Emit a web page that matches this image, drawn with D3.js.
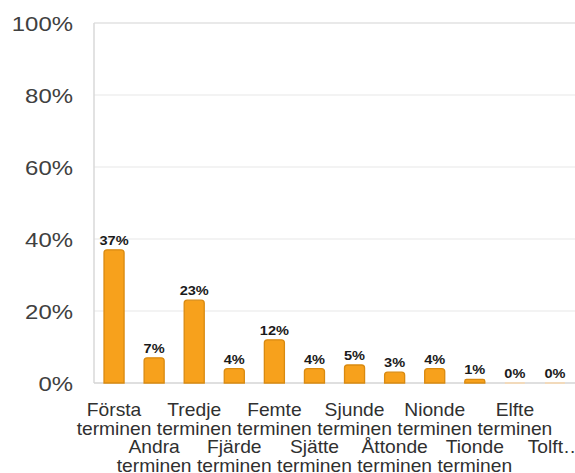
<!DOCTYPE html>
<html><head><meta charset="utf-8">
<script src="https://cdn.jsdelivr.net/npm/d3@7"></script>
<style>html,body{margin:0;padding:0;background:#fff;}svg{display:block;}</style>
</head><body>
<script>
const categories = ["Första terminen","Andra terminen","Tredje terminen","Fjärde terminen","Femte terminen","Sjätte terminen","Sjunde terminen","Åttonde terminen","Nionde terminen","Tionde terminen","Elfte terminen","Tolfte terminen"];
const values = [37,7,23,4,12,4,5,3,4,1,0,0];
const yTicks = [0,20,40,60,80,100];

const W=575,H=473;
const m={l:94,r:0,t:23,b:90};
const FONT="Liberation Sans, Arial, sans-serif";
const svg=d3.select("body").append("svg").attr("width",W).attr("height",H);
const x=d3.scaleBand().domain(categories).range([m.l,W-m.r]).paddingInner(0.5).paddingOuter(0.25);
const y=d3.scaleLinear().domain([0,100]).range([H-m.b,m.t]);

// gridlines
svg.append("g").selectAll("line").data(yTicks.filter(d=>d>0)).join("line")
  .attr("x1",m.l).attr("x2",W).attr("y1",d=>y(d)).attr("y2",d=>y(d))
  .attr("stroke",d=>d===100?"#d4d4d4":"#e8e8e8").attr("stroke-width",1.2);

// y axis line
svg.append("line").attr("x1",m.l).attr("x2",m.l).attr("y1",y(100)).attr("y2",y(0)).attr("stroke","#d8d8d8").attr("stroke-width",1.5);
// y tick labels (slightly stretched horizontally like the reference)
svg.append("g").selectAll("text").data(yTicks).join("text")
  .attr("transform",d=>`translate(73,${y(d)+7.5}) scale(1.14,1)`)
  .attr("text-anchor","end").attr("font-family",FONT).attr("font-size",21).attr("fill","#404040")
  .text(d=>d+"%");

// baseline
svg.append("line").attr("x1",m.l).attr("x2",W).attr("y1",y(0)).attr("y2",y(0)).attr("stroke","#d4d4d4").attr("stroke-width",1.5);

// bars
const bw=x.bandwidth();
const data=values.map((v,i)=>({v,c:categories[i]}));
svg.append("g").selectAll("path").data(data).join("path")
  .attr("d",d=>{
    const x0=x(d.c), x1=x0+bw, yt=y(d.v), yb=y(0);
    const r=Math.min(3,(yb-yt)/2);
    return `M${x0},${yb}V${yt+r}Q${x0},${yt} ${x0+r},${yt}H${x1-r}Q${x1},${yt} ${x1},${yt+r}V${yb}Z`;
  })
  .attr("fill","#F7A11C")
  .attr("stroke",d=>d.v===0?"#F9D9B0":"#D98A10").attr("stroke-width",1.3);

// value labels
svg.append("g").selectAll("text").data(data).join("text")
  .attr("transform",d=>`translate(${x(d.c)+bw/2},${y(d.v)-5}) scale(1.12,1)`)
  .attr("text-anchor","middle").attr("font-family",FONT)
  .attr("font-weight","bold").attr("font-size",13).attr("fill","#1a1a1a")
  .text(d=>d.v+"%");

// x labels, staggered
const xl=svg.append("g").attr("font-family",FONT).attr("font-size",18.5).attr("fill","#303030").attr("text-anchor","middle");
categories.forEach((c,i)=>{
  const cx=x(c)+bw/2;
  const base = i%2===0 ? 416 : 453;
  let lines=c.split(" ");
  if(i===categories.length-1) lines=["Tolft…"];
  lines.forEach((ln,k)=>{
    xl.append("text").attr("transform",`translate(${cx},${base+k*18.5}) scale(1.04,1)`).text(ln);
  });
});
</script>
</body></html>
